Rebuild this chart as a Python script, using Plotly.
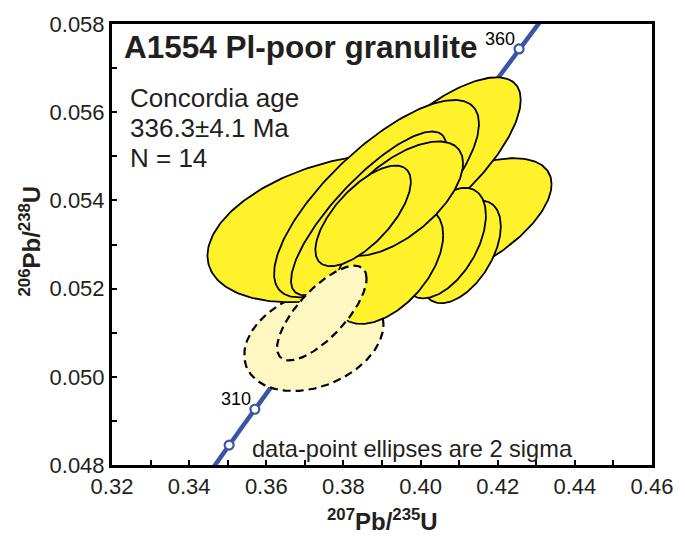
import numpy as np
import plotly.graph_objects as go

# ---- data (207Pb/235U, 2s half-extent, 206Pb/238U, 2s half-extent, error correlation) ----
# drawing order: bottom -> top
ell_x   = [0.37234, 0.37904, 0.40972, 0.40199, 0.38858, 0.38652, 0.41050, 0.40611, 0.39168, 0.39425, 0.38510, 0.37440]
ell_sx  = [0.01805, 0.03429, 0.02424, 0.02398, 0.02656, 0.02011, 0.01031, 0.01083, 0.01418, 0.01676, 0.01238, 0.01160]
ell_y   = [0.050841, 0.053369, 0.053481, 0.054823, 0.054040, 0.053705, 0.052832, 0.053033, 0.052541, 0.054040, 0.053649, 0.051445]
ell_sy  = [0.001163, 0.001678, 0.001476, 0.001969, 0.002237, 0.001857, 0.001163, 0.001253, 0.001342, 0.001298, 0.001141, 0.001074]
ell_rho = [0.30, 0.37, 0.60, 0.74, 0.76, 0.82, 0.50, 0.50, 0.50, 0.62, 0.68, 0.73]
ell_used = [False, True, True, True, True, True, True, True, True, True, True, False]

# concordia
lambda238 = 1.55125e-10
lambda235 = 9.8485e-10
curve_ages_ma = [290, 375]
marker_ages_ma = [305, 310, 315, 320, 325, 330, 335, 340, 345, 350, 355, 360]
label_ages_ma = [310, 360]

x_ticks = [0.32, 0.34, 0.36, 0.38, 0.40, 0.42, 0.44, 0.46]
x_ticklabels = ["0.32", "0.34", "0.36", "0.38", "0.40", "0.42", "0.44", "0.46"]
y_ticks = [0.048, 0.050, 0.052, 0.054, 0.056, 0.058]
y_ticklabels = ["0.048", "0.050", "0.052", "0.054", "0.056", "0.058"]

title_text = "A1554 Pl-poor granulite"
age_lines = ["Concordia age", "336.3±4.1 Ma", "N = 14"]
note_text = "data-point ellipses are 2 sigma"

FONT = "Liberation Sans, Arial, Helvetica, sans-serif"
TXT = "#231f20"
BLUE = "#3a55a6"
YELLOW = "#fff22a"
PALE = "#fff7c2"

def conc(t_ma):
    t = np.asarray(t_ma, dtype=float) * 1e6
    return np.exp(lambda235 * t) - 1.0, np.exp(lambda238 * t) - 1.0

fig = go.Figure()

# concordia line (under the ellipses)
tt = np.linspace(curve_ages_ma[0], curve_ages_ma[1], 300)
cx, cy = conc(tt)
fig.add_trace(go.Scatter(x=cx, y=cy, mode="lines", line=dict(color=BLUE, width=4.5),
                         hoverinfo="skip", showlegend=False))
mx, my = conc(marker_ages_ma)
fig.add_trace(go.Scatter(x=mx, y=my, mode="markers",
                         marker=dict(size=9, color="white", line=dict(color=BLUE, width=2.2)),
                         hoverinfo="skip", showlegend=False))

# ellipses
th = np.linspace(0, 2 * np.pi, 240)
for x0, sx, y0, sy, r, used in zip(ell_x, ell_sx, ell_y, ell_sy, ell_rho, ell_used):
    ex = x0 + sx * np.cos(th)
    ey = y0 + sy * (r * np.cos(th) + np.sqrt(1 - r * r) * np.sin(th))
    if used:
        line = dict(color="black", width=1.8)
        fc = YELLOW
    else:
        line = dict(color="black", width=2.2, dash="8px,5px")
        fc = PALE
    fig.add_trace(go.Scatter(x=ex, y=ey, mode="lines", fill="toself", fillcolor=fc,
                             line=line, hoverinfo="skip", showlegend=False))

# age labels on concordia
lx, ly = conc(label_ages_ma)
for a, xx, yy in zip(label_ages_ma, lx, ly):
    fig.add_annotation(x=xx, y=yy, text=str(a), showarrow=False, xanchor="right", yanchor="bottom",
                       xshift=-2, yshift=-2, font=dict(family=FONT, size=18, color="black"))

fig.add_annotation(xref="paper", yref="paper", x=0.018, y=0.947, text="<b>" + title_text + "</b>",
                   showarrow=False, xanchor="left", yanchor="middle",
                   font=dict(family=FONT, size=31.5, color=TXT))
for i, s in enumerate(age_lines):
    fig.add_annotation(xref="paper", yref="paper", x=0.029, y=(465 - (93 + 30.5 * i)) / 447,
                       text=s, showarrow=False, xanchor="left", yanchor="middle",
                       font=dict(family=FONT, size=26, color=TXT))
fig.add_annotation(xref="paper", yref="paper", x=(251 - 112) / 543, y=(465 - 449) / 447,
                   text=note_text, showarrow=False, xanchor="left", yanchor="middle",
                   font=dict(family=FONT, size=23.6, color=TXT))

# axis titles
fig.add_annotation(xref="paper", yref="paper", x=0.5, y=(465 - 521) / 447,
                   text="<b><sup>207</sup>Pb/<sup>235</sup>U</b>", showarrow=False,
                   xanchor="center", yanchor="middle", font=dict(family=FONT, size=24, color=TXT))
fig.add_annotation(xref="paper", yref="paper", x=(30 - 112) / 543, y=(465 - 238) / 447,
                   text="<b><sup>206</sup>Pb/<sup>238</sup>U</b>", showarrow=False, textangle=-90,
                   xanchor="center", yanchor="middle", font=dict(family=FONT, size=24, color=TXT))

axis_common = dict(showgrid=False, zeroline=False, showline=True, linecolor="black", linewidth=3,
                   mirror=True, ticks="inside", ticklen=5, tickwidth=2, tickcolor="black",
                   tickfont=dict(family=FONT, size=22, color=TXT))
fig.update_xaxes(range=[0.32, 0.46], tickvals=x_ticks, ticktext=x_ticklabels,
                 minor=dict(dtick=0.01, ticks="inside", ticklen=5, tickwidth=2, tickcolor="black"),
                 **axis_common)
fig.update_yaxes(range=[0.048, 0.058], tickvals=y_ticks, ticktext=y_ticklabels,
                 minor=dict(dtick=0.001, ticks="inside", ticklen=5, tickwidth=2, tickcolor="black"),
                 **axis_common)

fig.update_layout(width=685, height=537, margin=dict(l=112, r=30, t=18, b=72),
                  paper_bgcolor="white", plot_bgcolor="white", showlegend=False)

fig.write_html("out.html")
